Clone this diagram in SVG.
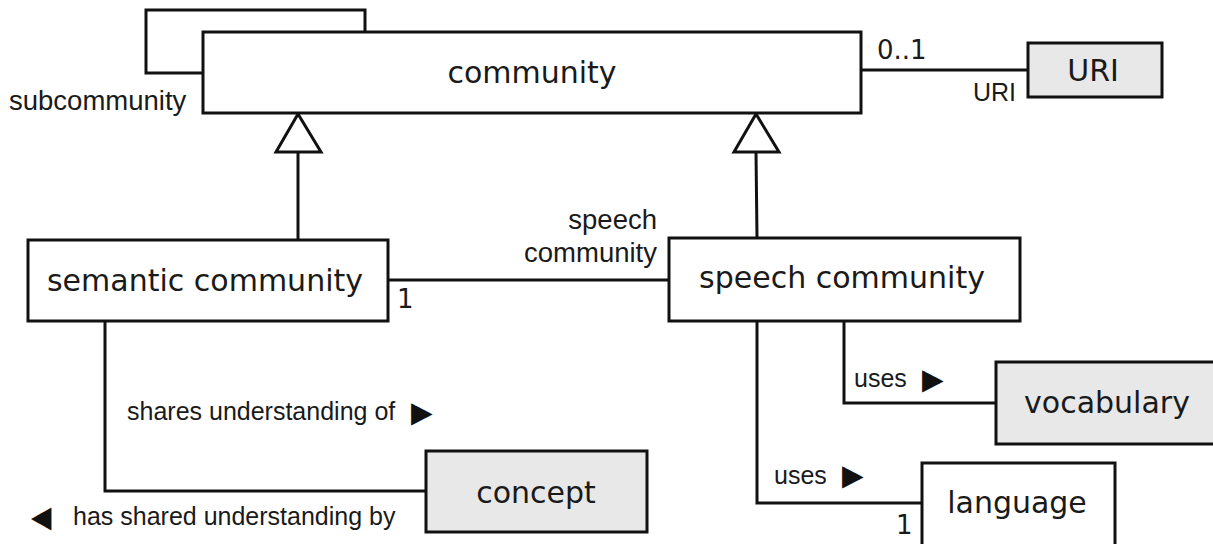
<svg xmlns="http://www.w3.org/2000/svg" width="1213" height="544" viewBox="0 0 1213 544">
<style>
.box{fill:#fff;stroke:#111;stroke-width:3}
.gray{fill:#e8e8e8}
.ln{fill:none;stroke:#111;stroke-width:3}
.gen{fill:#fff;stroke:#111;stroke-width:3;stroke-linejoin:miter}
.bt{font-family:"DejaVu Sans",Verdana,sans-serif;font-size:30px;fill:#1a1a1a;text-anchor:middle}
.lb{font-family:"Liberation Sans",Arial,sans-serif;font-size:25px;fill:#1a1a1a}
.ll{font-family:"Liberation Sans",Arial,sans-serif;font-size:27.5px;fill:#1a1a1a}
.mu{font-family:"DejaVu Sans",Verdana,sans-serif;font-size:26px;fill:#1a1a1a}
.ar{font-family:"DejaVu Sans",sans-serif;font-size:28px;fill:#111}
</style>
<rect width="1213" height="544" fill="#fff"/>
<g id="connectors">
<path class="ln" d="M365,32 V10 H146 V73 H203"/>
<path class="ln" d="M298,152 V240"/>
<path class="ln" d="M756,152 L757,238"/>
<path class="ln" d="M388,280 H669"/>
<path class="ln" d="M861,70 H1028"/>
<path class="ln" d="M105,321 V491 H426"/>
<path class="ln" d="M844,321 V403 H996"/>
<path class="ln" d="M757,321 V503 H922"/>
<polygon class="gen" points="298,114 276,152 321,152"/>
<polygon class="gen" points="756,114 734,152 779,152"/>
<text class="ll" x="9" y="110">subcommunity</text>
<text class="mu" x="877" y="59">0..1</text>
<text class="lb" x="1016" y="101" text-anchor="end">URI</text>
<text class="mu" x="397" y="308">1</text>
<text class="ll" x="657" y="229" text-anchor="end">speech</text>
<text class="ll" x="657" y="262" text-anchor="end">community</text>
<text class="lb" x="854" y="387">uses</text>
<text class="ar" transform="translate(922,393) scale(1,1.6)">►</text>
<text class="lb" x="774" y="484">uses</text>
<text class="ar" transform="translate(842,489) scale(1,1.6)">►</text>
<text class="mu" x="896" y="534">1</text>
<text class="lb" x="127" y="420">shares understanding of</text>
<text class="ar" transform="translate(411,426) scale(1,1.6)">►</text>
<text class="ar" transform="translate(31,531) scale(0.95,1.65)">◄</text>
<text class="lb" x="73" y="525">has shared understanding by</text>
</g>
<g id="community">
<rect class="box" x="203" y="32" width="658" height="81"/>
<text class="bt" x="532" y="83">community</text>
</g>
<g id="uri">
<rect class="box gray" x="1028" y="43" width="134" height="54"/>
<text class="bt" x="1093" y="81">URI</text>
</g>
<g id="semantic-community">
<rect class="box" x="28" y="240" width="360" height="81"/>
<text class="bt" x="205" y="291">semantic community</text>
</g>
<g id="speech-community">
<rect class="box" x="669" y="238" width="351" height="83"/>
<text class="bt" x="842" y="288">speech community</text>
</g>
<g id="vocabulary">
<rect class="box gray" x="996" y="362" width="222" height="82"/>
<text class="bt" x="1107" y="413">vocabulary</text>
</g>
<g id="language">
<rect class="box" x="922" y="463" width="193" height="90"/>
<text class="bt" x="1017" y="513">language</text>
</g>
<g id="concept">
<rect class="box gray" x="426" y="451" width="221" height="81"/>
<text class="bt" x="536" y="503">concept</text>
</g>
</svg>
